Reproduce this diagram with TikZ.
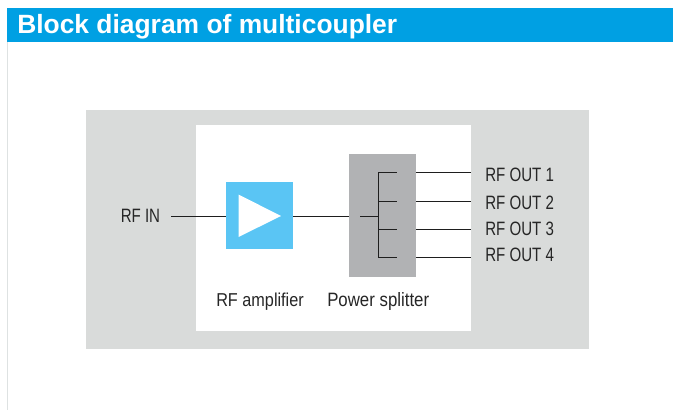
\documentclass[tikz,border=0pt]{standalone}
\usepackage{fontspec}
\setmainfont{Liberation Sans}
\newfontfamily\condfont[FakeStretch=0.78]{Liberation Sans}
\newfontfamily\capfont[FakeStretch=0.87]{Liberation Sans}
\usetikzlibrary{positioning, calc}
\definecolor{barC}{RGB}{0, 160, 227}
\definecolor{edgeC}{RGB}{222, 226, 226}
\definecolor{panelC}{RGB}{217, 219, 218}
\definecolor{ampC}{RGB}{90, 197, 244}
\definecolor{splitC}{RGB}{177, 178, 180}
\definecolor{wireC}{RGB}{30, 30, 30}
\tikzset{
  lbl/.style={font=\condfont\fontsize{14.5}{16}\selectfont, text=black!85, inner sep=0pt, anchor=base west},
  caplbl/.style={lbl, font=\capfont\fontsize{14.5}{16}\selectfont},
  wire/.style={wireC, line width=0.75pt},
  blockbox/.style={minimum width=50.25pt, inner sep=0pt, outer sep=0pt}
}

\begin{document}
\begin{tikzpicture}[x=0.75pt, y=-0.75pt]
        % All coordinates in reference pixels, y pointing down.
        \useasboundingbox (0, 0) rectangle (673, 410);

        % ── Page edge and title bar ──────────────────────────────────────
        \fill[edgeC] (6.5, 8) rectangle (8, 410);
        \fill[barC] (7, 8) rectangle (673, 42);
        \node[font=\bfseries\fontsize{19.8}{22}\selectfont, white, inner sep=0pt, anchor=base west]
              (title) at (17, 33.5) {Block diagram of multicoupler};

        % ── Grey panel with white inset ──────────────────────────────────
        \fill[panelC] (86, 110) rectangle (589, 349);
        \fill[white] (196, 125) rectangle (471, 331);

        % ── Amplifier and splitter blocks ────────────────────────────────
        \node[blockbox, fill=ampC, minimum height=50.25pt] (amp) at (259.5, 215.5) {};
        \fill[white] (238.5, 194.5) -- (281, 216) -- (238.5, 237) -- cycle;
        \node[blockbox, fill=splitC, minimum height=92.25pt] (split) at (382.5, 215.5) {};

        % ── Input side ───────────────────────────────────────────────────
        \node[lbl] (rfin) at (120.5, 222.7) {RF IN};
        \coordinate (infree) at (171, 216);
        \draw[wire] (infree) -- (infree -| amp.west);
        \draw[wire] (infree -| amp.east) -- (infree -| split.west);

        % ── Splitter tree ────────────────────────────────────────────────
        \coordinate (stub) at (360, 216);
        \coordinate (joint) at (378, 216);
        \coordinate (top) at (378, 172.5);
        \coordinate (bot) at (378, 257.5);
        \draw[wire] (stub) -- (joint);
        \draw[wire] (top) -- (bot);

        % ── Four outputs ─────────────────────────────────────────────────
        \foreach \n/\y/\b in {1/172.5/181.7, 2/201/209, 3/229/235, 4/257.5/261.7} {
          \coordinate (tap\n) at (378, \y);
          \coordinate (tapend\n) at (397, \y);
          \coordinate (outa\n) at (416, \y);
          \coordinate (outb\n) at (471, \y);
          \draw[wire] (tap\n) -- (tapend\n);
          \draw[wire] (outa\n) -- (outb\n);
          \node[lbl] (rfout\n) at (485, \b) {RF OUT \n};
        }

        % ── Block captions ───────────────────────────────────────────────
        \node[caplbl, font=\capfont\fontsize{14}{16}\selectfont] (ampcap) at (216, 306.7) {RF amplifier};
        \node[caplbl] (splitcap) at (327, 306.7) {Power splitter};
      \end{tikzpicture}
\end{document}
